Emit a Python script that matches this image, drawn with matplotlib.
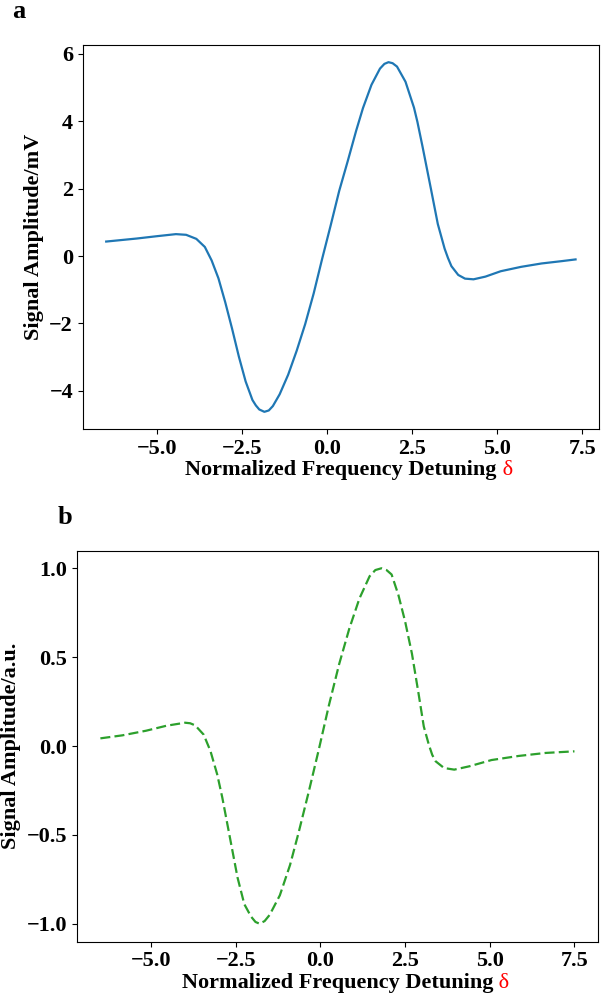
import matplotlib
matplotlib.use("Agg")
import matplotlib.pyplot as plt

# panel a: measured signal (mV)
delta_a = [-6.5, -5.6, -5.0, -4.45, -4.15, -3.85, -3.6, -3.4, -3.2, -3.0, -2.8,
           -2.6, -2.4, -2.2, -2.1, -2.0, -1.85, -1.72, -1.6, -1.4, -1.15, -0.9,
           -0.65, -0.4, -0.15, 0.1, 0.35, 0.6, 0.85, 1.05, 1.3, 1.55, 1.68, 1.8,
           1.92, 2.05, 2.3, 2.55, 2.65, 2.8, 3.05, 3.25, 3.45, 3.55, 3.65, 3.85,
           4.05, 4.3, 4.65, 5.1, 5.7, 6.3, 6.9, 7.3]
signal_a = [0.43, 0.52, 0.59, 0.65, 0.63, 0.51, 0.27, -0.13, -0.66, -1.37, -2.15,
            -2.98, -3.72, -4.27, -4.43, -4.55, -4.62, -4.58, -4.45, -4.10, -3.52,
            -2.81, -2.02, -1.11, -0.08, 0.91, 1.93, 2.81, 3.72, 4.39, 5.08, 5.56,
            5.70, 5.75, 5.72, 5.62, 5.17, 4.40, 3.98, 3.25, 1.98, 0.95, 0.22,
            -0.06, -0.30, -0.56, -0.67, -0.69, -0.61, -0.45, -0.32, -0.22, -0.15,
            -0.10]

# panel b: normalized signal (a.u.)
delta_b = [-6.5, -5.85, -5.15, -4.55, -4.0, -3.85, -3.7, -3.45, -3.25, -3.05, -2.9,
           -2.75, -2.6, -2.45, -2.25, -2.05, -1.92, -1.8, -1.65, -1.5, -1.2, -0.9,
           -0.65, -0.35, -0.05, 0.25, 0.55, 0.85, 1.15, 1.45, 1.62, 1.8, 1.95,
           2.1, 2.3, 2.5, 2.7, 2.9, 3.05, 3.2, 3.3, 3.4, 3.65, 3.95, 4.4, 5.05,
           5.85, 6.65, 7.5]
signal_b = [0.043, 0.060, 0.086, 0.114, 0.131, 0.128, 0.116, 0.064, -0.028, -0.16,
            -0.29, -0.44, -0.59, -0.74, -0.89, -0.96, -0.99, -1.0, -0.985, -0.95,
            -0.84, -0.67, -0.49, -0.26, -0.02, 0.23, 0.46, 0.66, 0.83, 0.955,
            0.99, 1.0, 0.99, 0.965, 0.85, 0.70, 0.52, 0.29, 0.11, 0.007, -0.05,
            -0.086, -0.124, -0.133, -0.114, -0.079, -0.056, -0.039, -0.030]

plt.rcParams["font.family"] = ["Liberation Serif", "DejaVu Serif"]
plt.rcParams["font.weight"] = "bold"

tksize = 16
lbsize = 16

fig = plt.figure(figsize=(6.11, 10), dpi=100)
ax1 = fig.add_axes([0.1354, 0.5707, 0.845, 0.3846])
ax2 = fig.add_axes([0.1255, 0.0585, 0.8535, 0.391])

ax1.plot(delta_a, signal_a, "-", color="#1f77b4", lw=1.6)
ax2.plot(delta_b, signal_b, "--", color="#2ca02c", lw=1.6, dashes=(4.5, 1.9))

ax1.set_ylabel("Signal Amplitude/mV", fontsize=lbsize, fontweight="bold")
ax2.set_ylabel("Signal Amplitude/a.u.", fontsize=lbsize, fontweight="bold")

for ax in (ax1, ax2):
    ax.set_xticks([-5.0, -2.5, 0.0, 2.5, 5.0, 7.5])
    ax.tick_params(labelsize=tksize)
    for lab in ax.get_xticklabels() + ax.get_yticklabels():
        lab.set_fontweight("bold")
    ax.set_xlabel("Normalized Frequency Detuning", fontsize=lbsize,
                  fontweight="bold", labelpad=1)
    # red delta right after the x label
    ax.annotate(" δ", xy=(1, 0), xycoords=ax.xaxis.label, va="bottom",
                ha="left", color="red", fontsize=lbsize, fontweight="normal")

ax2.set_yticks([-1.0, -0.5, 0.0, 0.5, 1.0])

fig.text(12 / 611, 1 - 18 / 1000, "a", fontsize=19, fontweight="bold",
         va="baseline")
fig.text(58 / 611, 1 - 524 / 1000, "b", fontsize=19, fontweight="bold",
         va="baseline")

fig.savefig("out.png", dpi=100)
